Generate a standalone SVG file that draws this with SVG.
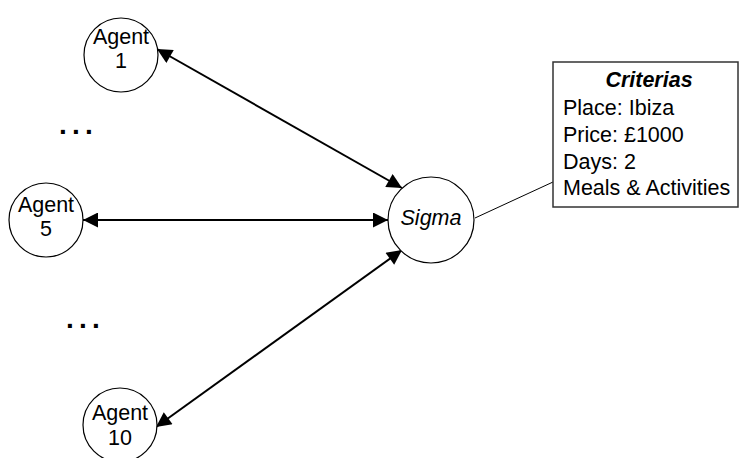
<svg xmlns="http://www.w3.org/2000/svg" width="739" height="458" viewBox="0 0 739 458">
<style>
.node circle{fill:#fff;stroke:#000;stroke-width:1.2}
text{font-family:"Liberation Sans",Arial,sans-serif;font-size:21.5px;fill:#000}
.c{text-anchor:middle}
.conn line{stroke:#000;stroke-width:2}
.dots{font-weight:bold;font-size:28px;letter-spacing:5.2px}
</style>
<defs>
<marker id="ah" viewBox="0 0 10 10" refX="10" refY="5" markerWidth="9" markerHeight="7.5" markerUnits="strokeWidth" orient="auto-start-reverse">
<path d="M0,0 L10,5 L0,10 z" fill="#000"/>
</marker>
</defs>
<g id="connectors" class="conn">
<line x1="157" y1="49" x2="402" y2="188" marker-start="url(#ah)" marker-end="url(#ah)"/>
<line x1="83" y1="220" x2="388" y2="220" marker-start="url(#ah)" marker-end="url(#ah)"/>
<line x1="156" y1="427" x2="402" y2="250" marker-start="url(#ah)" marker-end="url(#ah)"/>
<line x1="475" y1="218" x2="553" y2="182" style="stroke-width:1"/>
</g>
<g id="agent1" class="node"><circle cx="121" cy="55" r="37"/><text class="c" x="121" y="44">Agent</text><text class="c" x="121" y="68">1</text></g>
<g id="agent5" class="node"><circle cx="46" cy="220" r="37"/><text class="c" x="46" y="212">Agent</text><text class="c" x="46" y="236">5</text></g>
<g id="agent10" class="node"><circle cx="120" cy="425" r="37"/><text class="c" x="120" y="420">Agent</text><text class="c" x="120" y="445">10</text></g>
<g id="sigma" class="node"><circle cx="431" cy="220" r="43"/><text class="c" x="431" y="225" font-style="italic">Sigma</text></g>
<g id="criterias">
<rect x="553" y="62" width="185" height="145" fill="#fff" stroke="#333" stroke-width="1.5"/>
<text class="c" x="649" y="87" font-weight="bold" font-style="italic">Criterias</text>
<text x="563" y="115">Place: Ibiza</text>
<text x="563" y="142">Price: £1000</text>
<text x="563" y="169">Days: 2</text>
<text x="563" y="195">Meals &amp; Activities</text>
</g>
<text class="dots" x="59" y="134">...</text>
<text class="dots" x="66" y="328">...</text>
</svg>
